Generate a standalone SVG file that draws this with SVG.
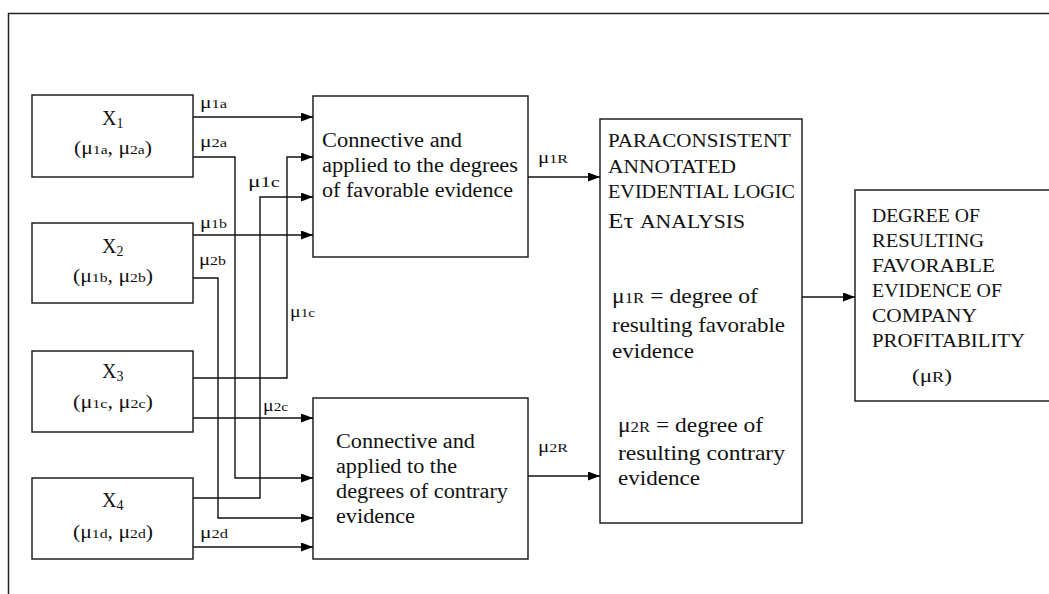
<svg xmlns="http://www.w3.org/2000/svg" width="1049" height="594" viewBox="0 0 1049 594">
<style>
.box{fill:#fff;stroke:#222;stroke-width:1.5}
.w{fill:none;stroke:#111;stroke-width:1.4}
.t{font-family:"Liberation Serif","Times New Roman",serif;fill:#111}
.m{font-family:"Liberation Serif","Times New Roman",serif;fill:#111;font-size:17px}
.s{font-size:13px}
</style>
<defs>
<marker id="ah" markerWidth="12" markerHeight="9" refX="12" refY="4.5" orient="auto" markerUnits="userSpaceOnUse">
<path d="M0,0 L12,4.5 L0,9 Z" fill="#000"/>
</marker>
</defs>
<rect x="0" y="0" width="1049" height="594" fill="#fff"/>
<path d="M8.5,594 V13.5 H1049" fill="none" stroke="#222" stroke-width="1.5"/>

<g id="X1"><rect class="box" x="32" y="95" width="161" height="82"/>
<text class="t" x="102" y="125" font-size="20">X<tspan font-size="14" dy="3">1</tspan></text>
<text class="t" x="74" y="154" font-size="18" textLength="78" lengthAdjust="spacingAndGlyphs">(μ<tspan class="s">1a</tspan>, μ<tspan class="s">2a</tspan>)</text></g>
<g id="X2"><rect class="box" x="32" y="223" width="161" height="80"/>
<text class="t" x="102" y="253" font-size="20">X<tspan font-size="14" dy="3">2</tspan></text>
<text class="t" x="73" y="282" font-size="18" textLength="80" lengthAdjust="spacingAndGlyphs">(μ<tspan class="s">1b</tspan>, μ<tspan class="s">2b</tspan>)</text></g>
<g id="X3"><rect class="box" x="32" y="351" width="161" height="81"/>
<text class="t" x="102" y="378" font-size="20">X<tspan font-size="14" dy="3">3</tspan></text>
<text class="t" x="73" y="408" font-size="18" textLength="80" lengthAdjust="spacingAndGlyphs">(μ<tspan class="s">1c</tspan>, μ<tspan class="s">2c</tspan>)</text></g>
<g id="X4"><rect class="box" x="32" y="478" width="161" height="81"/>
<text class="t" x="102" y="507" font-size="20">X<tspan font-size="14" dy="3">4</tspan></text>
<text class="t" x="73" y="538" font-size="18" textLength="80" lengthAdjust="spacingAndGlyphs">(μ<tspan class="s">1d</tspan>, μ<tspan class="s">2d</tspan>)</text></g>

<g id="C1"><rect class="box" x="313" y="96" width="215" height="161"/>
<text class="t" font-size="20" x="322" y="147" textLength="140" lengthAdjust="spacingAndGlyphs">Connective and</text>
<text class="t" font-size="20" x="322" y="172" textLength="196" lengthAdjust="spacingAndGlyphs">applied to the degrees</text>
<text class="t" font-size="20" x="322" y="197" textLength="191" lengthAdjust="spacingAndGlyphs">of favorable evidence</text></g>
<g id="C2"><rect class="box" x="313" y="398" width="215" height="161"/>
<text class="t" font-size="20" x="336" y="448" textLength="139" lengthAdjust="spacingAndGlyphs">Connective and</text>
<text class="t" font-size="20" x="336" y="473" textLength="121" lengthAdjust="spacingAndGlyphs">applied to the</text>
<text class="t" font-size="20" x="336" y="498" textLength="172" lengthAdjust="spacingAndGlyphs">degrees of contrary</text>
<text class="t" font-size="20" x="336" y="523" textLength="79" lengthAdjust="spacingAndGlyphs">evidence</text></g>

<g id="P"><rect class="box" x="600" y="119" width="202" height="404"/>
<text class="t" font-size="19" x="608" y="147" textLength="183" lengthAdjust="spacingAndGlyphs">PARACONSISTENT</text>
<text class="t" font-size="19" x="608" y="173" textLength="128" lengthAdjust="spacingAndGlyphs">ANNOTATED</text>
<text class="t" font-size="19" x="608" y="198" textLength="187" lengthAdjust="spacingAndGlyphs">EVIDENTIAL LOGIC</text>
<text class="t" x="608" y="228" font-size="21" textLength="137" lengthAdjust="spacingAndGlyphs">Eτ <tspan font-size="18">ANALYSIS</tspan></text>
<text class="t" font-size="21" x="612" y="303" textLength="146" lengthAdjust="spacingAndGlyphs">μ<tspan font-size="15">1R</tspan> = degree of</text>
<text class="t" font-size="21" x="612" y="332" textLength="173" lengthAdjust="spacingAndGlyphs">resulting favorable</text>
<text class="t" font-size="21" x="612" y="358" textLength="82" lengthAdjust="spacingAndGlyphs">evidence</text>
<text class="t" font-size="21" x="618" y="432" textLength="145" lengthAdjust="spacingAndGlyphs">μ<tspan font-size="15">2R</tspan> = degree of</text>
<text class="t" font-size="21" x="618" y="460" textLength="167" lengthAdjust="spacingAndGlyphs">resulting contrary</text>
<text class="t" font-size="21" x="618" y="485" textLength="82" lengthAdjust="spacingAndGlyphs">evidence</text></g>

<g id="R"><rect class="box" x="855" y="190" width="210" height="211"/>
<text class="t" font-size="19" x="872" y="222" textLength="108" lengthAdjust="spacingAndGlyphs">DEGREE OF</text>
<text class="t" font-size="19" x="872" y="247" textLength="112" lengthAdjust="spacingAndGlyphs">RESULTING</text>
<text class="t" font-size="19" x="872" y="272" textLength="123" lengthAdjust="spacingAndGlyphs">FAVORABLE</text>
<text class="t" font-size="19" x="872" y="297" textLength="130" lengthAdjust="spacingAndGlyphs">EVIDENCE OF</text>
<text class="t" font-size="19" x="872" y="322" textLength="105" lengthAdjust="spacingAndGlyphs">COMPANY</text>
<text class="t" font-size="19" x="872" y="347" textLength="153" lengthAdjust="spacingAndGlyphs">PROFITABILITY</text>
<text class="t" font-size="19" x="912" y="382" textLength="40" lengthAdjust="spacingAndGlyphs">(μ<tspan font-size="15">R</tspan>)</text></g>

<g id="connectors">
<path class="w" d="M193,117 H313" marker-end="url(#ah)"/>
<path class="w" d="M193,157 H235 V478 H313" marker-end="url(#ah)" stroke="#777"/>
<path class="w" d="M193,378 H287 V157 H313" marker-end="url(#ah)"/>
<path class="w" d="M193,498 H260 V197 H313" marker-end="url(#ah)"/>
<path class="w" d="M193,235 H313" marker-end="url(#ah)"/>
<path class="w" d="M193,278 H218 V518 H313" marker-end="url(#ah)"/>
<path class="w" d="M193,418 H313" marker-end="url(#ah)"/>
<path class="w" d="M193,547 H313" marker-end="url(#ah)"/>
<path class="w" d="M528,177 H600" marker-end="url(#ah)"/>
<path class="w" d="M528,476 H600" marker-end="url(#ah)"/>
<path class="w" d="M802,297 H855" marker-end="url(#ah)"/>
<text class="m" x="200" y="108" textLength="27" lengthAdjust="spacingAndGlyphs">μ<tspan class="s">1a</tspan></text>
<text class="m" x="200" y="147" textLength="27" lengthAdjust="spacingAndGlyphs">μ<tspan class="s">2a</tspan></text>
<text class="m" x="248" y="187" textLength="32" lengthAdjust="spacingAndGlyphs" font-size="19">μ<tspan font-size="15">1c</tspan></text>
<text class="m" x="200" y="228" textLength="27" lengthAdjust="spacingAndGlyphs">μ<tspan class="s">1b</tspan></text>
<text class="m" x="199" y="265" textLength="27" lengthAdjust="spacingAndGlyphs">μ<tspan class="s">2b</tspan></text>
<text class="m" x="290" y="317" textLength="25" lengthAdjust="spacingAndGlyphs">μ<tspan class="s">1c</tspan></text>
<text class="m" x="263" y="411" textLength="25" lengthAdjust="spacingAndGlyphs">μ<tspan class="s">2c</tspan></text>
<text class="m" x="200" y="538" textLength="28" lengthAdjust="spacingAndGlyphs">μ<tspan class="s">2d</tspan></text>
<text class="m" x="538" y="163" textLength="30" lengthAdjust="spacingAndGlyphs">μ<tspan class="s">1R</tspan></text>
<text class="m" x="538" y="452" textLength="30" lengthAdjust="spacingAndGlyphs">μ<tspan class="s">2R</tspan></text>
</g>
</svg>
